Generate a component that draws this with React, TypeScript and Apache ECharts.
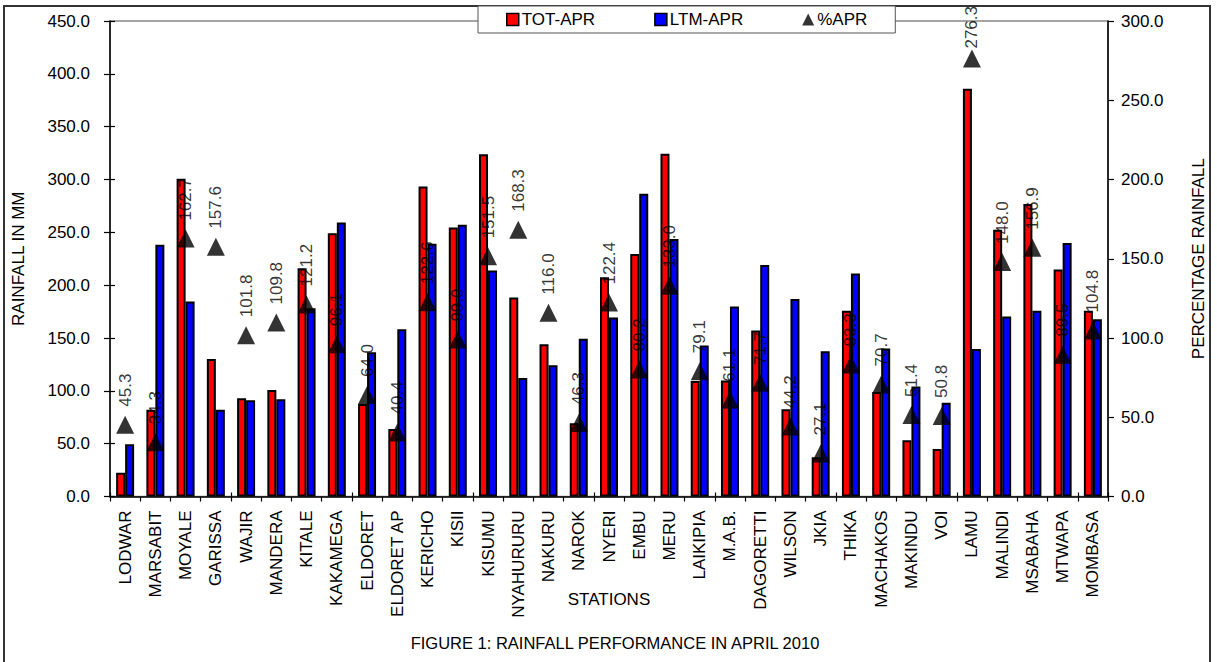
import React, { useEffect, useRef } from "react";
import * as echarts from "echarts";

const stations = [
  "LODWAR", "MARSABIT", "MOYALE", "GARISSA", "WAJIR", "MANDERA", "KITALE", "KAKAMEGA",
  "ELDORET", "ELDORET AP", "KERICHO", "KISII", "KISUMU", "NYAHURURU", "NAKURU", "NAROK",
  "NYERI", "EMBU", "MERU", "LAIKIPIA", "M.A.B.", "DAGORETTI", "WILSON", "JKIA", "THIKA",
  "MACHAKOS", "MAKINDU", "VOI", "LAMU", "MALINDI", "MSABAHA", "MTWAPA", "MOMBASA",
];

const totApr = [
  22.5, 82.0, 300.7, 130.2, 93.0, 100.9, 216.0, 249.2, 87.6, 63.9, 293.4, 254.6, 324.0,
  188.3, 144.1, 69.3, 207.6, 229.4, 324.3, 109.4, 109.7, 157.0, 82.6, 37.1, 175.7, 99.0,
  53.2, 45.0, 385.9, 252.4, 276.7, 214.8, 175.7,
];

const ltmApr = [
  49.4, 238.2, 184.5, 82.2, 91.1, 92.0, 178.2, 259.3, 136.5, 158.3, 239.1, 257.1, 213.8,
  112.2, 124.2, 149.4, 169.3, 286.5, 243.8, 142.8, 179.7, 219.2, 187.0, 137.5, 211.0, 140.0,
  104.0, 88.8, 139.7, 170.3, 175.7, 239.8, 167.8,
];

const pctApr = [
  45.3, 34.3, 162.7, 157.6, 101.8, 109.8, 121.2, 96.1, 64.0, 40.4, 122.6, 99.0, 151.5,
  168.3, 116.0, 46.3, 122.4, 80.2, 133.0, 79.1, 61.1, 71.7, 44.2, 27.1, 83.3, 70.7, 51.4,
  50.8, 276.3, 148.0, 156.9, 89.5, 104.8,
];

const FONT = '"Liberation Sans", Arial, sans-serif';

export default function App() {
  const ref = useRef<HTMLDivElement>(null);
  useEffect(() => {
    document.body.style.margin = "0";
    const chart = echarts.init(ref.current!, null, { renderer: "svg" });
    const axisText = { color: "#000", fontFamily: FONT, fontSize: 17 };
    const baseLabel = {
      show: true,
      position: "top",
      rotate: 90,
      align: "left",
      verticalAlign: "middle",
      distance: 9,
      color: "#000",
      fontFamily: FONT,
      fontSize: 17,
      formatter: (p: any) => Number(p.value).toFixed(1),
    };
    const pctData = pctApr.map((v) =>
      v > 250 ? { value: v, label: { ...baseLabel, distance: 1, offset: [0, 0] } } : v
    );
    chart.setOption({
      animation: false,
      backgroundColor: "#fff",
      textStyle: { fontFamily: FONT, color: "#000" },
      grid: {
        left: 110,
        right: 109,
        top: 21,
        bottom: 165.5,
        show: true,
        borderColor: "#888",
        borderWidth: 1.5,
      },
      legend: {
        left: 478,
        top: 6,
        width: 440,
        padding: [5, 28, 5, 28],
        itemGap: 59,
        itemWidth: 12,
        itemHeight: 12,
        itemStyle: { borderColor: "#000", borderWidth: 1.5 },
        borderColor: "#555",
        borderWidth: 1,
        backgroundColor: "#fff",
        textStyle: { ...axisText, padding: [0, 0, 0, -2] },
        data: [
          { name: "TOT-APR", icon: "rect" },
          { name: "LTM-APR", icon: "rect" },
          { name: "%APR", icon: "triangle", itemStyle: { borderWidth: 0 } },
        ],
      },
      xAxis: [
        {
          type: "category",
          data: stations,
          name: "STATIONS",
          nameLocation: "middle",
          nameGap: 94,
          nameMoveOverlap: false,
          nameTextStyle: { ...axisText, fontSize: 17 },
          axisLine: { lineStyle: { color: "#000", width: 1.5 } },
          axisTick: { show: true, length: 5, lineStyle: { color: "#000", width: 1.2 } },
          axisLabel: { ...axisText, rotate: 90, margin: 14, interval: 0 },
        },
        {
          type: "category",
          data: stations,
          position: "bottom",
          axisLine: { show: false },
          axisTick: { show: true, inside: true, length: 4, lineStyle: { color: "#000", width: 1.2 } },
          axisLabel: { show: false },
        },
      ],
      yAxis: [
        {
          type: "value",
          min: 0,
          max: 450,
          interval: 50,
          position: "left",
          name: "RAINFALL IN MM",
          nameLocation: "middle",
          nameGap: 83,
          nameRotate: 90,
          nameMoveOverlap: false,
          nameTextStyle: axisText,
          axisLine: { show: true, lineStyle: { color: "#000", width: 1.5 } },
          axisTick: { show: true, length: 6, lineStyle: { color: "#000", width: 1.2 } },
          axisLabel: { ...axisText, margin: 20, formatter: (v: number) => v.toFixed(1) },
          splitLine: { show: false },
        },
        {
          type: "value",
          min: 0,
          max: 300,
          interval: 50,
          position: "right",
          name: "PERCENTAGE RAINFALL",
          nameLocation: "middle",
          nameGap: 82,
          nameRotate: 90,
          nameMoveOverlap: false,
          nameTextStyle: axisText,
          axisLine: { show: true, lineStyle: { color: "#000", width: 1.5 } },
          axisTick: { show: true, length: 6, lineStyle: { color: "#000", width: 1.2 } },
          axisLabel: { ...axisText, margin: 13, formatter: (v: number) => v.toFixed(1) },
          splitLine: { show: false },
        },
        {
          type: "value",
          min: 0,
          max: 450,
          interval: 50,
          position: "left",
          axisLine: { show: false },
          axisTick: { show: true, inside: true, length: 5, lineStyle: { color: "#000", width: 1.2 } },
          axisLabel: { show: false },
          splitLine: { show: false },
        },
      ],
      series: [
        {
          name: "TOT-APR",
          type: "bar",
          data: totApr,
          barWidth: 9,
          barGap: "0%",
          itemStyle: { color: "#ff0000", borderColor: "#000", borderWidth: 2 },
        },
        {
          name: "LTM-APR",
          type: "bar",
          data: ltmApr,
          barWidth: 9,
          barGap: "0%",
          itemStyle: { color: "#0000ff", borderColor: "#000", borderWidth: 2 },
        },
        {
          name: "%APR",
          type: "scatter",
          yAxisIndex: 1,
          data: pctData,
          symbol: "triangle",
          symbolSize: 18,
          itemStyle: { color: "#000" },
          z: 5,
          label: baseLabel,
        },
      ],
      graphic: [
        {
          type: "rect",
          shape: { x: 4, y: 6, width: 1206, height: 700 },
          style: { fill: "none", stroke: "#333", lineWidth: 2 },
          z: -10,
          silent: true,
        },
        {
          type: "text",
          x: 615,
          y: 643,
          style: {
            text: "FIGURE 1: RAINFALL PERFORMANCE IN APRIL 2010",
            fontFamily: FONT,
            fontSize: 16.5,
            fill: "#000",
            textAlign: "center",
            textVerticalAlign: "middle",
          },
        },
      ],
    });
    return () => chart.dispose();
  }, []);
  return <div ref={ref} style={{ width: 1217, height: 662 }} />;
}
